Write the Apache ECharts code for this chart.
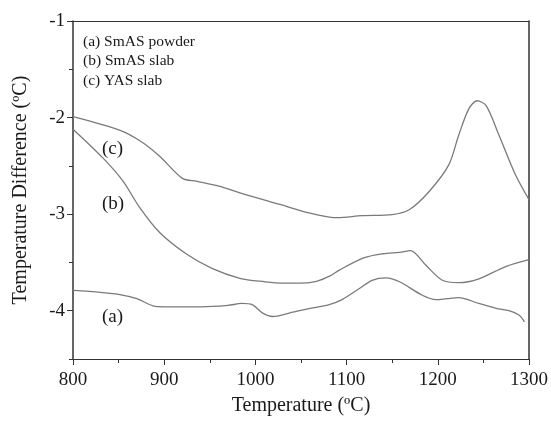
<!DOCTYPE html>
<html>
<head>
<meta charset="utf-8">
<script src="https://cdn.jsdelivr.net/npm/echarts@6/dist/echarts.min.js"></script>
<style>
  html, body { margin: 0; padding: 0; background: #fff; }
  #chart { width: 551px; height: 421px; }
</style>
</head>
<body>
<div id="chart"></div>
<script>
// DTA curves: temperature (ºC) vs temperature difference (ºC)
const seriesNames = ['(a) SmAS powder', '(b) SmAS slab', '(c) YAS slab'];

const smasPowder = [
  [800, -3.79], [830, -3.81], [850, -3.83], [870, -3.875], [890, -3.955],
  [905, -3.96], [940, -3.96], [970, -3.945], [985, -3.925], [997, -3.94],
  [1008, -4.025], [1019, -4.06], [1037, -4.025], [1060, -3.975], [1080, -3.94],
  [1095, -3.885], [1114, -3.77], [1128, -3.685], [1143, -3.66], [1158, -3.70],
  [1183, -3.84], [1198, -3.885], [1210, -3.875], [1223, -3.865], [1245, -3.925],
  [1264, -3.975], [1278, -4.0], [1289, -4.045], [1295, -4.115]
];

const smasSlab = [
  [800, -2.12], [833, -2.42], [855, -2.66], [873, -2.93], [895, -3.19],
  [924, -3.41], [953, -3.565], [983, -3.665], [1010, -3.70], [1030, -3.715],
  [1048, -3.715], [1067, -3.695], [1082, -3.64], [1092, -3.58], [1118, -3.455],
  [1140, -3.41], [1158, -3.395], [1170, -3.378], [1187, -3.53], [1205, -3.685],
  [1223, -3.71], [1245, -3.67], [1275, -3.54], [1300, -3.47]
];

const yasSlab = [
  [800, -1.99], [851, -2.13], [875, -2.25], [895, -2.40], [920, -2.63],
  [936, -2.66], [960, -2.71], [983, -2.78], [1027, -2.90], [1060, -2.99],
  [1081, -3.03], [1090, -3.037], [1117, -3.016], [1150, -3.005], [1169, -2.952],
  [1191, -2.76], [1212, -2.49], [1223, -2.18], [1234, -1.91], [1243, -1.826],
  [1253, -1.877], [1267, -2.18], [1285, -2.59], [1300, -2.85]
];

const yMajorTicks = [-4, -3, -2, -1];
const curveTags = ['(a)', '(b)', '(c)'];

const FONT = '"Liberation Serif", "Times New Roman", serif';
const INK = '#1a1a1a';
const LINE = '#7a7a7a';
const AXIS = '#333';

const chart = echarts.init(document.getElementById('chart'));

function curve(name, data) {
  return {
    name: name,
    type: 'line',
    data: data,
    smooth: 0.3,
    showSymbol: false,
    lineStyle: { color: LINE, width: 1.3 },
    silent: true
  };
}

// plain frame line for the top and right sides of the plot
function frameAxis(kind, position) {
  const ax = {
    type: 'value',
    position: position,
    axisLine: { show: true, onZero: false, lineStyle: { color: AXIS, width: kind === 'y' ? 1.5 : 1 } },
    axisTick: { show: false },
    axisLabel: { show: false },
    splitLine: { show: false }
  };
  if (kind === 'x') { ax.min = 800; ax.max = 1300; } else { ax.min = -4.5; ax.max = -1; }
  return ax;
}

chart.setOption({
  animation: false,
  backgroundColor: '#fff',
  grid: { left: 73, right: 21, top: 21, bottom: 58, show: false },
  xAxis: [
    {
      type: 'value',
      min: 800, max: 1300, interval: 100,
      name: 'Temperature (ºC)',
      nameLocation: 'middle',
      nameGap: 37,
      nameTextStyle: { fontFamily: FONT, fontSize: 20, color: INK },
      axisLine: { show: true, onZero: false, lineStyle: { color: AXIS, width: 1 } },
      axisTick: { show: true, inside: false, length: 6, lineStyle: { color: AXIS } },
      minorTick: { show: true, splitNumber: 2, length: 4, lineStyle: { color: AXIS } },
      splitLine: { show: false },
      axisLabel: {
        fontFamily: FONT, fontSize: 19, color: INK, margin: 12,
        formatter: function (v) { return String(v); }
      }
    },
    frameAxis('x', 'top')
  ],
  yAxis: [
    {
      type: 'value',
      min: -4.5, max: -1, interval: 0.5,
      name: 'Temperature Difference (ºC)',
      nameLocation: 'middle',
      nameGap: 42,
      nameTextStyle: { fontFamily: FONT, fontSize: 20, color: INK },
      axisLine: { show: true, onZero: false, lineStyle: { color: AXIS, width: 1.5 } },
      axisTick: { show: true, inside: false, length: 4, lineStyle: { color: AXIS } },
      splitLine: { show: false },
      axisLabel: {
        fontFamily: FONT, fontSize: 19, color: INK, margin: 8,
        formatter: function (v) { return Number.isInteger(v) ? String(v) : ''; }
      }
    },
    {
      // longer ticks at the labelled values
      type: 'value',
      position: 'left',
      min: -4.5, max: -1,
      axisLine: { show: false },
      axisTick: { show: true, inside: false, length: 6, customValues: yMajorTicks, lineStyle: { color: AXIS } },
      axisLabel: { show: false },
      splitLine: { show: false }
    },
    frameAxis('y', 'right')
  ],
  graphic: [
    { type: 'text', left: 83, top: 34, style: { text: seriesNames[0], font: '15.5px ' + FONT, fill: INK } },
    { type: 'text', left: 83, top: 53, style: { text: seriesNames[1], font: '15.5px ' + FONT, fill: INK } },
    { type: 'text', left: 83, top: 73, style: { text: seriesNames[2], font: '15.5px ' + FONT, fill: INK } },
    { type: 'text', left: 102, top: 140, style: { text: curveTags[2], font: '19px ' + FONT, fill: INK } },
    { type: 'text', left: 102, top: 195, style: { text: curveTags[1], font: '19px ' + FONT, fill: INK } },
    { type: 'text', left: 102, top: 308, style: { text: curveTags[0], font: '19px ' + FONT, fill: INK } }
  ],
  series: [
    curve(seriesNames[0], smasPowder),
    curve(seriesNames[1], smasSlab),
    curve(seriesNames[2], yasSlab)
  ]
});
</script>
</body>
</html>
